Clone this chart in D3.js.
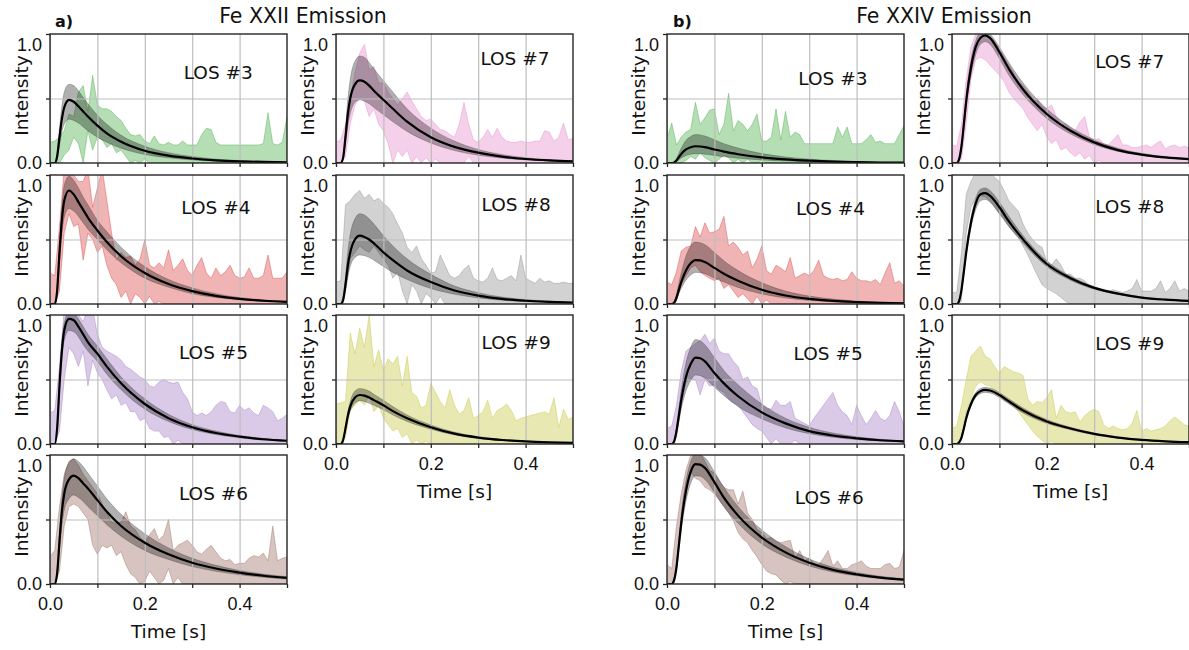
<!DOCTYPE html>
<html>
<head>
<meta charset="utf-8">
<script src="https://cdn.jsdelivr.net/npm/d3@7"></script>
<style>
  body { margin: 0; background: #fff; }
  svg { font-family: "DejaVu Sans", sans-serif; }
  .grid line { stroke: #bdbdbd; stroke-width: 1.2; }
  .grid .domain { display: none; }
  .tick-axis .domain { display: none; }
  .tick-axis line { stroke: #262626; stroke-width: 1.3; }
  .tick-axis text { font-size: 18px; fill: #111; }
</style>
</head>
<body>
<svg id="fig" width="1189" height="650"></svg>
<script>
/* global d3 */

// time sampling of the observed light curves (s)
const obsTime = [
  0.00, 0.01, 0.02, 0.03, 0.04, 0.05, 0.06, 0.07, 0.08, 0.09,
  0.10, 0.11, 0.12, 0.13, 0.14, 0.15, 0.16, 0.17, 0.18, 0.19,
  0.20, 0.21, 0.22, 0.23, 0.24, 0.25, 0.26, 0.27, 0.28, 0.29,
  0.30, 0.31, 0.32, 0.33, 0.34, 0.35, 0.36, 0.37, 0.38, 0.39,
  0.40, 0.41, 0.42, 0.43, 0.44, 0.45, 0.46, 0.47, 0.48, 0.49,
  0.50,
];
// time sampling of the model curves (s)
const fitTime = [0, 0.01, 0.015, 0.02, 0.025, 0.03, 0.04, 0.05, 0.06, 0.07, 0.08,
  0.1, 0.12, 0.15, 0.2, 0.25, 0.3, 0.35, 0.4, 0.45, 0.5];

const xTicks = [0, 0.1, 0.2, 0.3, 0.4, 0.5];
const xTickLabels = [0, 0.2, 0.4];
const yTicks = [0, 0.5, 1.0];
const titles = { a: 'Fe XXII Emission', b: 'Fe XXIV Emission' };

// ---- Fe XXII (a) ----
const a3ObsHi = [
  0.16, 0.17, 0.2, 0.25, 0.38, 0.36, 0.55, 0.6, 0.4, 0.68,
  0.45, 0.42, 0.42, 0.4, 0.36, 0.33, 0.27, 0.22, 0.21, 0.22,
  0.17, 0.15, 0.21, 0.15, 0.14, 0.16, 0.14, 0.14, 0.17, 0.14,
  0.14, 0.14, 0.22, 0.27, 0.26, 0.16, 0.14, 0.14, 0.14, 0.14,
  0.14, 0.14, 0.14, 0.14, 0.14, 0.15, 0.39, 0.15, 0.14, 0.16,
  0.36];
const a3ObsLo = [
  0, 0, 0, 0.06, 0.1, 0.2, 0.15, 0, 0.25, 0.1,
  0.2, 0.18, 0.12, 0.15, 0.08, 0.1, 0.05, 0, 0.02, 0,
  0.03, 0, 0, 0, 0, 0, 0, 0, 0, 0,
  0, 0, 0, 0, 0, 0, 0, 0, 0, 0,
  0, 0, 0, 0, 0, 0, 0, 0, 0, 0,
  0];
const a3Fit = [0, 0, 0.05, 0.2, 0.34, 0.43, 0.49, 0.475, 0.44, 0.4, 0.36, 0.29, 0.23, 0.165, 0.095, 0.057, 0.035, 0.021, 0.013, 0.008, 0.005];
const a3FitHi = [0, 0, 0.07, 0.27, 0.44, 0.55, 0.61, 0.6, 0.56, 0.51, 0.46, 0.37, 0.3, 0.215, 0.13, 0.08, 0.05, 0.03, 0.019, 0.012, 0.007];
const a3FitLo = [0, 0, 0.03, 0.13, 0.24, 0.3, 0.34, 0.33, 0.31, 0.28, 0.25, 0.2, 0.16, 0.115, 0.066, 0.04, 0.024, 0.015, 0.009, 0.005, 0.003];

const a4ObsHi = [
  0.24, 0.22, 0.6, 1.05, 1.05, 1.0, 0.95, 0.95, 1.05, 0.75,
  0.9, 1.05, 0.8, 0.55, 0.34, 0.4, 0.36, 0.37, 0.3, 0.35,
  0.5, 0.3, 0.28, 0.32, 0.28, 0.42, 0.26, 0.3, 0.35, 0.26,
  0.22, 0.3, 0.36, 0.24, 0.2, 0.28, 0.22, 0.25, 0.3, 0.22,
  0.2, 0.21, 0.28, 0.2, 0.2, 0.22, 0.38, 0.2, 0.2, 0.2,
  0.25];
const a4ObsLo = [
  0, 0, 0.1, 0.55, 0.7, 0.6, 0.62, 0.34, 0.55, 0.5,
  0.4, 0.45, 0.3, 0.2, 0.15, 0.05, 0.1, 0, 0.08, 0.05,
  0, 0.06, 0, 0.02, 0, 0, 0, 0, 0, 0,
  0, 0, 0, 0, 0, 0, 0, 0, 0, 0,
  0, 0, 0, 0, 0, 0, 0, 0, 0, 0,
  0];
const a4Fit = [0, 0, 0.1, 0.4, 0.65, 0.8, 0.88, 0.85, 0.79, 0.73, 0.67, 0.57, 0.48, 0.37, 0.24, 0.155, 0.1, 0.063, 0.04, 0.025, 0.016];
const a4FitHi = [0, 0, 0.13, 0.47, 0.75, 0.92, 0.99, 0.96, 0.9, 0.83, 0.77, 0.65, 0.56, 0.44, 0.29, 0.19, 0.125, 0.08, 0.05, 0.032, 0.02];
const a4FitLo = [0, 0, 0.07, 0.32, 0.54, 0.67, 0.74, 0.72, 0.68, 0.63, 0.58, 0.5, 0.42, 0.32, 0.2, 0.13, 0.08, 0.05, 0.032, 0.02, 0.012];

const a5ObsHi = [
  0.24, 0.26, 0.6, 1.05, 1.05, 1.0, 1.0, 0.95, 1.05, 1.05,
  0.85, 0.75, 0.72, 0.7, 0.68, 0.65, 0.6, 0.58, 0.55, 0.52,
  0.5, 0.45, 0.44, 0.48, 0.5, 0.48, 0.47, 0.48, 0.4, 0.35,
  0.25, 0.22, 0.24, 0.22, 0.25, 0.3, 0.33, 0.32, 0.25, 0.24,
  0.3, 0.26, 0.28, 0.24, 0.22, 0.3, 0.28, 0.25, 0.18, 0.2,
  0.23];
const a5ObsLo = [
  0, 0, 0.1, 0.5, 0.75, 0.7, 0.6, 0.72, 0.45, 0.65,
  0.55, 0.5, 0.42, 0.35, 0.38, 0.3, 0.32, 0.25, 0.25, 0.18,
  0.2, 0.12, 0.1, 0.1, 0.05, 0.06, 0, 0.03, 0, 0,
  0, 0, 0, 0, 0, 0, 0, 0, 0, 0,
  0, 0, 0, 0, 0, 0, 0, 0, 0, 0,
  0];
const a5Fit = [0, 0, 0.12, 0.45, 0.72, 0.88, 0.97, 0.96, 0.91, 0.85, 0.79, 0.7, 0.6, 0.47, 0.31, 0.2, 0.13, 0.085, 0.057, 0.037, 0.025];
const a5FitHi = [0, 0, 0.15, 0.5, 0.78, 0.94, 1.02, 1.01, 0.97, 0.91, 0.85, 0.76, 0.66, 0.52, 0.35, 0.23, 0.15, 0.1, 0.066, 0.043, 0.029];
const a5FitLo = [0, 0, 0.09, 0.4, 0.65, 0.8, 0.88, 0.87, 0.83, 0.77, 0.72, 0.64, 0.54, 0.42, 0.27, 0.175, 0.112, 0.073, 0.048, 0.031, 0.021];

const a6ObsHi = [
  0.21, 0.26, 0.6, 0.85, 0.95, 0.97, 0.92, 0.85, 0.8, 0.75,
  0.7, 0.62, 0.55, 0.48, 0.47, 0.48, 0.56, 0.45, 0.42, 0.36,
  0.33, 0.38, 0.43, 0.34, 0.38, 0.5, 0.26, 0.3, 0.32, 0.34,
  0.3, 0.25, 0.23, 0.27, 0.3, 0.25, 0.2, 0.18, 0.19, 0.15,
  0.16, 0.16, 0.2, 0.22, 0.21, 0.24, 0.18, 0.45, 0.18, 0.2,
  0.21];
const a6ObsLo = [
  0, 0, 0.1, 0.45, 0.6, 0.62, 0.6, 0.55, 0.5, 0.3,
  0.23, 0.3, 0.28, 0.3, 0.22, 0.25, 0.15, 0.08, 0.05, 0,
  0.02, 0.1, 0.05, 0, 0.03, 0.12, 0, 0.05, 0, 0,
  0, 0, 0, 0, 0, 0, 0, 0, 0, 0,
  0, 0, 0, 0, 0, 0, 0, 0, 0, 0,
  0];
const a6Fit = [0, 0, 0.08, 0.33, 0.56, 0.7, 0.81, 0.84, 0.82, 0.78, 0.74, 0.65, 0.56, 0.45, 0.32, 0.23, 0.165, 0.12, 0.088, 0.064, 0.047];
const a6FitHi = [0, 0, 0.1, 0.4, 0.66, 0.82, 0.94, 0.97, 0.95, 0.91, 0.86, 0.76, 0.66, 0.54, 0.39, 0.28, 0.2, 0.145, 0.105, 0.077, 0.057];
const a6FitLo = [0, 0, 0.06, 0.26, 0.45, 0.57, 0.66, 0.69, 0.67, 0.64, 0.6, 0.53, 0.46, 0.37, 0.26, 0.19, 0.135, 0.098, 0.072, 0.052, 0.038];

const a7ObsHi = [
  0.16, 0.18, 0.3, 0.5, 0.7, 0.85, 0.92, 0.72, 0.75, 0.62,
  0.62, 0.55, 0.5, 0.45, 0.5, 0.55, 0.48, 0.42, 0.36, 0.33,
  0.34, 0.3, 0.26, 0.25, 0.22, 0.2, 0.3, 0.47, 0.3, 0.18,
  0.16, 0.2, 0.26, 0.2, 0.27, 0.2, 0.17, 0.16, 0.16, 0.17,
  0.16, 0.16, 0.17, 0.17, 0.25, 0.24, 0.17, 0.2, 0.31, 0.18,
  0.19];
const a7ObsLo = [
  0, 0, 0.05, 0.3, 0.45, 0.5, 0.48, 0.36, 0.42, 0.3,
  0.25, 0.15, 0, 0.1, 0.05, 0.1, 0, 0.05, 0, 0.04,
  0, 0.03, 0, 0, 0, 0, 0, 0, 0.05, 0,
  0, 0, 0, 0, 0, 0, 0, 0, 0, 0,
  0, 0, 0, 0, 0, 0, 0, 0, 0, 0,
  0];
const a7Fit = [0, 0, 0.04, 0.2, 0.38, 0.5, 0.61, 0.64, 0.63, 0.6, 0.56, 0.49, 0.42, 0.32, 0.2, 0.125, 0.08, 0.05, 0.031, 0.02, 0.013];
const a7FitHi = [0, 0, 0.06, 0.27, 0.5, 0.65, 0.79, 0.83, 0.82, 0.78, 0.73, 0.64, 0.55, 0.42, 0.27, 0.17, 0.105, 0.066, 0.041, 0.026, 0.017];
const a7FitLo = [0, 0, 0.03, 0.15, 0.29, 0.38, 0.47, 0.49, 0.48, 0.46, 0.43, 0.375, 0.32, 0.245, 0.155, 0.096, 0.06, 0.038, 0.024, 0.015, 0.01];

const a8ObsHi = [
  0.17, 0.18, 0.77, 0.8, 0.85, 0.88, 0.82, 0.85, 0.8, 0.82,
  0.78, 0.75, 0.7, 0.62, 0.55, 0.44, 0.4, 0.45, 0.35, 0.3,
  0.24, 0.25, 0.38, 0.3, 0.22, 0.2, 0.22, 0.27, 0.3, 0.2,
  0.18, 0.17, 0.2, 0.28, 0.19, 0.18, 0.2, 0.22, 0.18, 0.38,
  0.2, 0.18, 0.16, 0.2, 0.17, 0.18, 0.16, 0.16, 0.17, 0.16,
  0.16];
const a8ObsLo = [
  0, 0, 0.1, 0.35, 0.4, 0.45, 0.42, 0.4, 0.45, 0.4,
  0.35, 0.3, 0.2, 0.25, 0.1, 0, 0.15, 0.1, 0, 0.08,
  0.05, 0, 0.06, 0, 0, 0, 0, 0, 0, 0,
  0, 0, 0, 0, 0, 0, 0, 0, 0, 0,
  0, 0, 0, 0, 0, 0, 0, 0, 0, 0,
  0];
const a8Fit = [0, 0, 0.03, 0.15, 0.3, 0.4, 0.5, 0.53, 0.52, 0.5, 0.47, 0.4, 0.34, 0.26, 0.17, 0.105, 0.065, 0.04, 0.025, 0.016, 0.01];
const a8FitHi = [0, 0, 0.05, 0.21, 0.41, 0.54, 0.66, 0.7, 0.69, 0.66, 0.62, 0.53, 0.45, 0.35, 0.23, 0.14, 0.088, 0.054, 0.034, 0.022, 0.014];
const a8FitLo = [0, 0, 0.02, 0.1, 0.21, 0.29, 0.36, 0.38, 0.375, 0.36, 0.34, 0.29, 0.245, 0.19, 0.12, 0.076, 0.047, 0.029, 0.018, 0.011, 0.007];

const a9ObsHi = [
  0.31, 0.32, 0.33, 0.86, 0.7, 0.9, 0.75, 1.0, 0.6, 0.73,
  0.57, 0.66, 0.62, 0.68, 0.45, 0.68, 0.4, 0.37, 0.28, 0.3,
  0.47, 0.4, 0.33, 0.28, 0.42, 0.3, 0.23, 0.26, 0.36, 0.2,
  0.22, 0.25, 0.34, 0.2, 0.26, 0.28, 0.31, 0.26, 0.18, 0.2,
  0.21, 0.22, 0.23, 0.24, 0.25, 0.23, 0.36, 0.13, 0.27, 0.19,
  0.21];
const a9ObsLo = [
  0, 0, 0.05, 0.26, 0.3, 0.34, 0.3, 0.38, 0.25, 0.3,
  0.2, 0.15, 0.1, 0.12, 0.05, 0.08, 0, 0.03, 0, 0.02,
  0, 0, 0, 0, 0, 0, 0, 0, 0, 0,
  0, 0, 0, 0, 0, 0, 0, 0, 0, 0,
  0, 0, 0, 0, 0, 0, 0, 0, 0, 0,
  0];
const a9Fit = [0, 0, 0.03, 0.12, 0.22, 0.29, 0.36, 0.38, 0.375, 0.36, 0.34, 0.3, 0.255, 0.2, 0.13, 0.08, 0.05, 0.031, 0.02, 0.013, 0.008];
const a9FitHi = [0, 0, 0.04, 0.14, 0.25, 0.33, 0.41, 0.43, 0.425, 0.41, 0.385, 0.34, 0.29, 0.225, 0.148, 0.092, 0.057, 0.036, 0.023, 0.015, 0.009];
const a9FitLo = [0, 0, 0.025, 0.105, 0.19, 0.255, 0.315, 0.335, 0.33, 0.315, 0.3, 0.265, 0.225, 0.175, 0.115, 0.07, 0.044, 0.027, 0.018, 0.011, 0.007];

// ---- Fe XXIV (b) ----
const b3ObsHi = [
  0.19, 0.31, 0.14, 0.2, 0.24, 0.26, 0.47, 0.3, 0.35, 0.41,
  0.42, 0.22, 0.3, 0.54, 0.25, 0.33, 0.3, 0.25, 0.3, 0.38,
  0.17, 0.17, 0.2, 0.42, 0.18, 0.4, 0.2, 0.24, 0.22, 0.15,
  0.15, 0.15, 0.15, 0.15, 0.15, 0.15, 0.28, 0.2, 0.28, 0.15,
  0.15, 0.15, 0.18, 0.22, 0.16, 0.17, 0.15, 0.15, 0.15, 0.22,
  0.29];
const b3ObsLo = [
  0, 0, 0, 0, 0.02, 0.05, 0.03, 0.08, 0.04, 0.02,
  0, 0.03, 0.06, 0.04, 0, 0.03, 0, 0.03, 0, 0,
  0.02, 0, 0, 0, 0, 0, 0, 0, 0, 0,
  0, 0, 0, 0, 0, 0, 0, 0, 0, 0,
  0, 0, 0, 0, 0, 0, 0, 0, 0, 0,
  0];
const b3Fit = [0, 0, 0.005, 0.02, 0.045, 0.07, 0.105, 0.122, 0.13, 0.128, 0.123, 0.105, 0.088, 0.068, 0.043, 0.028, 0.018, 0.011, 0.007, 0.004, 0.003];
const b3FitHi = [0, 0, 0.01, 0.035, 0.075, 0.115, 0.175, 0.205, 0.22, 0.218, 0.21, 0.18, 0.15, 0.116, 0.073, 0.047, 0.03, 0.019, 0.012, 0.007, 0.005];
const b3FitLo = [0, 0, 0.003, 0.011, 0.025, 0.038, 0.058, 0.067, 0.072, 0.07, 0.068, 0.058, 0.048, 0.037, 0.024, 0.015, 0.01, 0.006, 0.004, 0.002, 0.0015];

const b4ObsHi = [
  0.17, 0.15, 0.25, 0.41, 0.44, 0.45, 0.6, 0.52, 0.63, 0.55,
  0.56, 0.58, 0.68, 0.45, 0.48, 0.44, 0.38, 0.41, 0.28, 0.35,
  0.45, 0.26, 0.23, 0.3, 0.28, 0.25, 0.36, 0.2, 0.22, 0.24,
  0.22, 0.26, 0.34, 0.22, 0.2, 0.19, 0.2, 0.18, 0.19, 0.25,
  0.2, 0.18, 0.18, 0.17, 0.19, 0.15, 0.24, 0.32, 0.16, 0.18,
  0.14];
const b4ObsLo = [
  0, 0, 0.02, 0.15, 0.22, 0.28, 0.3, 0.25, 0.22, 0.2,
  0.18, 0.2, 0.12, 0.15, 0.1, 0.05, 0.08, 0.04, 0, 0.06,
  0, 0.03, 0, 0, 0, 0, 0, 0, 0, 0,
  0, 0, 0, 0, 0, 0, 0, 0, 0, 0,
  0, 0, 0, 0, 0, 0, 0, 0, 0, 0,
  0];
const b4Fit = [0, 0, 0.01, 0.05, 0.11, 0.17, 0.26, 0.315, 0.34, 0.338, 0.325, 0.28, 0.235, 0.18, 0.11, 0.066, 0.04, 0.024, 0.015, 0.009, 0.006];
const b4FitHi = [0, 0, 0.015, 0.075, 0.16, 0.24, 0.37, 0.45, 0.48, 0.475, 0.46, 0.4, 0.335, 0.26, 0.165, 0.1, 0.062, 0.038, 0.023, 0.014, 0.009];
const b4FitLo = [0, 0, 0.006, 0.035, 0.08, 0.12, 0.185, 0.225, 0.245, 0.243, 0.235, 0.2, 0.17, 0.128, 0.078, 0.047, 0.028, 0.017, 0.01, 0.006, 0.004];

const b5ObsHi = [
  0.12, 0.14, 0.3, 0.56, 0.72, 0.75, 0.78, 0.8, 0.85, 0.78,
  0.82, 0.72, 0.7, 0.7, 0.64, 0.6, 0.5, 0.52, 0.45, 0.43,
  0.3, 0.28, 0.27, 0.34, 0.3, 0.3, 0.33, 0.2, 0.18, 0.16,
  0.14, 0.2, 0.25, 0.3, 0.35, 0.4, 0.3, 0.25, 0.22, 0.15,
  0.3, 0.22, 0.15, 0.2, 0.26, 0.2, 0.18, 0.22, 0.33, 0.25,
  0.14];
const b5ObsLo = [
  0, 0, 0.05, 0.3, 0.48, 0.5, 0.5, 0.38, 0.5, 0.45,
  0.46, 0.42, 0.4, 0.35, 0.32, 0.3, 0.25, 0.2, 0.15, 0.12,
  0.1, 0.05, 0, 0.04, 0, 0, 0, 0.03, 0, 0,
  0, 0, 0, 0, 0, 0, 0, 0, 0, 0,
  0, 0, 0, 0, 0, 0, 0, 0, 0, 0,
  0];
const b5Fit = [0, 0, 0.02, 0.1, 0.22, 0.34, 0.52, 0.62, 0.67, 0.665, 0.64, 0.55, 0.47, 0.37, 0.245, 0.16, 0.1, 0.066, 0.044, 0.029, 0.02];
const b5FitHi = [0, 0, 0.03, 0.13, 0.28, 0.42, 0.63, 0.75, 0.81, 0.8, 0.77, 0.67, 0.57, 0.46, 0.31, 0.2, 0.13, 0.085, 0.056, 0.037, 0.025];
const b5FitLo = [0, 0, 0.015, 0.075, 0.17, 0.27, 0.41, 0.49, 0.535, 0.53, 0.51, 0.44, 0.375, 0.29, 0.195, 0.125, 0.08, 0.052, 0.034, 0.023, 0.015];

const b6ObsHi = [
  0.15, 0.12, 0.45, 0.7, 0.88, 1.0, 1.02, 1.02, 0.95, 0.88,
  0.86, 0.8, 0.75, 0.73, 0.73, 0.62, 0.72, 0.55, 0.5, 0.42,
  0.4, 0.35, 0.36, 0.33, 0.32, 0.33, 0.34, 0.2, 0.26, 0.18,
  0.2, 0.16, 0.15, 0.2, 0.26, 0.14, 0.18, 0.12, 0.12, 0.15,
  0.16, 0.18, 0.14, 0.12, 0.12, 0.12, 0.15, 0.16, 0.12, 0.13,
  0.26];
const b6ObsLo = [
  0, 0, 0.1, 0.5, 0.75, 0.87, 0.82, 0.8, 0.75, 0.73,
  0.7, 0.65, 0.6, 0.55, 0.49, 0.4, 0.35, 0.32, 0.26, 0.21,
  0.15, 0.1, 0.08, 0.07, 0.03, 0, 0.02, 0, 0, 0,
  0, 0, 0, 0, 0, 0, 0, 0, 0, 0,
  0, 0, 0, 0, 0, 0, 0, 0, 0, 0,
  0];
const b6Fit = [0, 0, 0.03, 0.13, 0.3, 0.47, 0.72, 0.87, 0.93, 0.925, 0.9, 0.79, 0.67, 0.53, 0.36, 0.245, 0.165, 0.11, 0.075, 0.05, 0.034];
const b6FitHi = [0, 0, 0.04, 0.16, 0.35, 0.54, 0.8, 0.95, 1.01, 1.0, 0.98, 0.87, 0.75, 0.6, 0.42, 0.29, 0.195, 0.13, 0.09, 0.06, 0.041];
const b6FitLo = [0, 0, 0.02, 0.11, 0.26, 0.41, 0.64, 0.78, 0.84, 0.835, 0.81, 0.71, 0.6, 0.47, 0.31, 0.21, 0.14, 0.093, 0.063, 0.042, 0.028];

const b7ObsHi = [
  0.14, 0.13, 0.3, 0.65, 0.9, 1.0, 1.02, 1.0, 0.98, 0.94,
  0.88, 0.82, 0.76, 0.7, 0.63, 0.6, 0.55, 0.5, 0.5, 0.44,
  0.42, 0.45, 0.36, 0.3, 0.3, 0.27, 0.25, 0.32, 0.36, 0.2,
  0.18, 0.19, 0.15, 0.14, 0.18, 0.22, 0.14, 0.14, 0.12, 0.12,
  0.13, 0.14, 0.12, 0.15, 0.17, 0.11, 0.13, 0.14, 0.12, 0.13,
  0.12];
const b7ObsLo = [
  0, 0, 0.03, 0.3, 0.65, 0.8, 0.82, 0.8, 0.76, 0.72,
  0.68, 0.63, 0.55, 0.5, 0.46, 0.42, 0.35, 0.3, 0.25, 0.3,
  0.2, 0.15, 0.18, 0.1, 0.12, 0.08, 0.05, 0.08, 0.03, 0.06,
  0, 0.02, 0, 0, 0, 0, 0, 0, 0, 0,
  0, 0, 0, 0, 0, 0, 0, 0, 0, 0,
  0];
const b7Fit = [0, 0, 0.03, 0.13, 0.3, 0.48, 0.74, 0.9, 0.97, 0.99, 0.97, 0.86, 0.73, 0.57, 0.38, 0.25, 0.16, 0.1, 0.065, 0.043, 0.03];
const b7FitHi = [0, 0, 0.04, 0.16, 0.35, 0.54, 0.8, 0.95, 1.01, 1.02, 1.0, 0.9, 0.78, 0.62, 0.42, 0.28, 0.18, 0.115, 0.075, 0.05, 0.035];
const b7FitLo = [0, 0, 0.02, 0.1, 0.26, 0.43, 0.68, 0.84, 0.92, 0.94, 0.92, 0.81, 0.68, 0.53, 0.345, 0.225, 0.143, 0.09, 0.058, 0.038, 0.026];

const b8ObsHi = [
  0.09, 0.09, 0.4, 0.85, 0.95, 1.02, 1.02, 1.0, 1.02, 0.98,
  0.95, 0.88, 0.8, 0.76, 0.72, 0.62, 0.55, 0.5, 0.46, 0.44,
  0.33, 0.3, 0.35, 0.3, 0.23, 0.23, 0.2, 0.2, 0.18, 0.14,
  0.13, 0.12, 0.1, 0.1, 0.11, 0.1, 0.09, 0.1, 0.12, 0.19,
  0.1, 0.1, 0.1, 0.12, 0.18, 0.09, 0.12, 0.18, 0.1, 0.12,
  0.1];
const b8ObsLo = [
  0, 0, 0.02, 0.55, 0.75, 0.82, 0.84, 0.83, 0.8, 0.75,
  0.7, 0.66, 0.6, 0.56, 0.52, 0.45, 0.38, 0.3, 0.22, 0.15,
  0.12, 0.1, 0.08, 0.05, 0.02, 0, 0, 0, 0, 0,
  0, 0, 0, 0, 0, 0, 0, 0, 0, 0,
  0, 0, 0, 0, 0, 0, 0, 0, 0, 0,
  0];
const b8Fit = [0, 0, 0.025, 0.11, 0.25, 0.4, 0.63, 0.78, 0.85, 0.86, 0.84, 0.75, 0.64, 0.5, 0.31, 0.2, 0.125, 0.08, 0.05, 0.034, 0.024];
const b8FitHi = [0, 0, 0.03, 0.125, 0.28, 0.44, 0.67, 0.82, 0.89, 0.9, 0.88, 0.79, 0.68, 0.53, 0.335, 0.215, 0.135, 0.087, 0.055, 0.037, 0.026];
const b8FitLo = [0, 0, 0.02, 0.1, 0.23, 0.37, 0.59, 0.73, 0.8, 0.81, 0.79, 0.7, 0.6, 0.47, 0.29, 0.185, 0.115, 0.074, 0.046, 0.031, 0.022];

const b9ObsHi = [
  0.12, 0.14, 0.3, 0.5, 0.68, 0.72, 0.76, 0.68, 0.66, 0.6,
  0.55, 0.6, 0.58, 0.56, 0.55, 0.53, 0.35, 0.3, 0.33, 0.32,
  0.36, 0.42, 0.2, 0.3, 0.25, 0.24, 0.25, 0.17, 0.22, 0.25,
  0.27, 0.25, 0.15, 0.12, 0.14, 0.12, 0.11, 0.12, 0.16, 0.26,
  0.1, 0.12, 0.1, 0.11, 0.12, 0.14, 0.18, 0.21, 0.18, 0.15,
  0.14];
const b9ObsLo = [
  0, 0, 0.05, 0.25, 0.35, 0.45, 0.48, 0.46, 0.45, 0.42,
  0.38, 0.34, 0.32, 0.3, 0.25, 0.2, 0.15, 0.1, 0.06, 0.03,
  0, 0.02, 0, 0, 0, 0, 0, 0, 0, 0,
  0, 0, 0, 0, 0, 0, 0, 0, 0, 0,
  0, 0, 0, 0, 0, 0, 0, 0, 0, 0,
  0];
const b9Fit = [0, 0, 0.012, 0.05, 0.12, 0.2, 0.31, 0.38, 0.41, 0.42, 0.415, 0.38, 0.33, 0.26, 0.175, 0.12, 0.078, 0.05, 0.032, 0.021, 0.014];
const b9FitHi = [0, 0, 0.015, 0.06, 0.135, 0.22, 0.33, 0.4, 0.43, 0.44, 0.435, 0.4, 0.35, 0.28, 0.19, 0.13, 0.085, 0.055, 0.036, 0.024, 0.016];
const b9FitLo = [0, 0, 0.01, 0.04, 0.105, 0.18, 0.29, 0.36, 0.39, 0.4, 0.395, 0.36, 0.31, 0.24, 0.16, 0.11, 0.071, 0.045, 0.029, 0.019, 0.012];

// ---- layout / style ----
const losColor = { 3: '#2ca02c', 4: '#d62728', 5: '#9467bd', 6: '#8c564b', 7: '#e377c2', 8: '#7f7f7f', 9: '#bcbd22' };
const losSlot = { 3: [0, 0], 4: [0, 1], 5: [0, 2], 6: [0, 3], 7: [1, 0], 8: [1, 1], 9: [1, 2] };
const bottomLos = [6, 9];
const colX = { a: [50, 336], b: [667, 952] };
const rowY = [34, 175, 315, 455];
const W = 237;
const H = 129;
// label placement in axes fractions
const labelAt = {
  a: { 3: [0.71, 0.3], 4: [0.7, 0.25], 5: [0.69, 0.29], 6: [0.69, 0.3], 7: [0.755, 0.19], 8: [0.76, 0.23], 9: [0.76, 0.21] },
  b: { 3: [0.7, 0.34], 4: [0.69, 0.26], 5: [0.68, 0.3], 6: [0.685, 0.33], 7: [0.75, 0.21], 8: [0.75, 0.24], 9: [0.75, 0.22] },
};

const panels = [
  { fig: 'a', los: 3, hi: a3ObsHi, lo: a3ObsLo, fit: a3Fit, fitHi: a3FitHi, fitLo: a3FitLo },
  { fig: 'a', los: 4, hi: a4ObsHi, lo: a4ObsLo, fit: a4Fit, fitHi: a4FitHi, fitLo: a4FitLo },
  { fig: 'a', los: 5, hi: a5ObsHi, lo: a5ObsLo, fit: a5Fit, fitHi: a5FitHi, fitLo: a5FitLo },
  { fig: 'a', los: 6, hi: a6ObsHi, lo: a6ObsLo, fit: a6Fit, fitHi: a6FitHi, fitLo: a6FitLo },
  { fig: 'a', los: 7, hi: a7ObsHi, lo: a7ObsLo, fit: a7Fit, fitHi: a7FitHi, fitLo: a7FitLo },
  { fig: 'a', los: 8, hi: a8ObsHi, lo: a8ObsLo, fit: a8Fit, fitHi: a8FitHi, fitLo: a8FitLo },
  { fig: 'a', los: 9, hi: a9ObsHi, lo: a9ObsLo, fit: a9Fit, fitHi: a9FitHi, fitLo: a9FitLo },
  { fig: 'b', los: 3, hi: b3ObsHi, lo: b3ObsLo, fit: b3Fit, fitHi: b3FitHi, fitLo: b3FitLo },
  { fig: 'b', los: 4, hi: b4ObsHi, lo: b4ObsLo, fit: b4Fit, fitHi: b4FitHi, fitLo: b4FitLo },
  { fig: 'b', los: 5, hi: b5ObsHi, lo: b5ObsLo, fit: b5Fit, fitHi: b5FitHi, fitLo: b5FitLo },
  { fig: 'b', los: 6, hi: b6ObsHi, lo: b6ObsLo, fit: b6Fit, fitHi: b6FitHi, fitLo: b6FitLo },
  { fig: 'b', los: 7, hi: b7ObsHi, lo: b7ObsLo, fit: b7Fit, fitHi: b7FitHi, fitLo: b7FitLo },
  { fig: 'b', los: 8, hi: b8ObsHi, lo: b8ObsLo, fit: b8Fit, fitHi: b8FitHi, fitLo: b8FitLo },
  { fig: 'b', los: 9, hi: b9ObsHi, lo: b9ObsLo, fit: b9Fit, fitHi: b9FitHi, fitLo: b9FitLo },
];

const $svg = d3.select('#fig');
$svg.append('rect').attr('width', 1189).attr('height', 650).attr('fill', '#fff');

const x = d3.scaleLinear().domain([0, 0.5]).range([0, W]);
const y = d3.scaleLinear().domain([0, 1]).range([H, 0]);

panels.forEach(p => {
  const [col, row] = losSlot[p.los];
  const x0 = colX[p.fig][col];
  const y0 = rowY[row];
  const color = losColor[p.los];
  const $g = $svg.append('g').attr('transform', `translate(${x0},${y0})`);

  const clipId = `clip-${p.fig}${p.los}`;
  $g.append('clipPath').attr('id', clipId)
    .append('rect').attr('width', W).attr('height', H);
  const $plot = $g.append('g').attr('clip-path', `url(#${clipId})`);

  // observed band
  const obsArea = d3.area()
    .x((d, i) => x(obsTime[i]))
    .y0((d, i) => y(p.lo[i]))
    .y1(d => y(d));
  $plot.append('path').datum(p.hi)
    .attr('d', obsArea)
    .attr('fill', color).attr('fill-opacity', 0.35)
    .attr('stroke', color).attr('stroke-opacity', 0.35).attr('stroke-width', 1);

  // model band
  const fitArea = d3.area()
    .curve(d3.curveMonotoneX)
    .x((d, i) => x(fitTime[i]))
    .y0((d, i) => y(p.fitLo[i]))
    .y1(d => y(d));
  $plot.append('path').datum(p.fitHi)
    .attr('d', fitArea)
    .attr('fill', '#000').attr('fill-opacity', 0.31)
    .attr('stroke', '#000').attr('stroke-opacity', 0.25).attr('stroke-width', 0.8);

  // grid (drawn above the fills, below the line)
  $plot.append('g').attr('class', 'grid')
    .attr('transform', `translate(0,${H})`)
    .call(d3.axisBottom(x).tickValues(xTicks).tickSize(-H).tickFormat(''));
  $plot.append('g').attr('class', 'grid')
    .call(d3.axisLeft(y).tickValues([0.5]).tickSize(-W).tickFormat(''));

  // model curve
  const fitLine = d3.line()
    .curve(d3.curveMonotoneX)
    .x((d, i) => x(fitTime[i]))
    .y(d => y(d));
  $plot.append('path').datum(p.fit)
    .attr('d', fitLine)
    .attr('fill', 'none').attr('stroke', '#000').attr('stroke-width', 2.2);

  // spines
  $g.append('rect').attr('width', W).attr('height', H)
    .attr('fill', 'none').attr('stroke', '#262626').attr('stroke-width', 1.4);

  // y axis
  const $ya = $g.append('g').attr('class', 'tick-axis')
    .call(d3.axisLeft(y).tickValues(yTicks).tickSize(4).tickPadding(4)
      .tickFormat(d => (d === 0.5 ? '' : d3.format('.1f')(d))));
  $ya.selectAll('.tick text').filter(d => d === 1).attr('dy', '0.9em');

  // x axis
  const isBottom = bottomLos.includes(p.los);
  $g.append('g').attr('class', 'tick-axis')
    .attr('transform', `translate(0,${H})`)
    .call(d3.axisBottom(x).tickValues(xTicks).tickSize(4).tickPadding(9)
      .tickFormat(d => (isBottom && xTickLabels.some(v => Math.abs(v - d) < 1e-9) ? d3.format('.1f')(d) : '')));

  if (isBottom) {
    $g.append('text')
      .attr('x', W / 2).attr('y', H + 54)
      .attr('text-anchor', 'middle')
      .attr('font-size', 18.5).attr('fill', '#111')
      .text('Time [s]');
  }

  // y label
  $g.append('text')
    .attr('transform', `translate(-22,${H / 2 - 3}) rotate(-90)`)
    .attr('text-anchor', 'middle')
    .attr('font-size', 18.5).attr('fill', '#111')
    .text('Intensity');

  // LOS label
  const [fx, fy] = labelAt[p.fig][p.los];
  $g.append('text')
    .attr('x', fx * W).attr('y', fy * H)
    .attr('dy', '0.36em')
    .attr('text-anchor', 'middle')
    .attr('font-size', 18.5).attr('fill', '#111')
    .text(`LOS #${p.los}`);
});

// titles and panel letters
[['a', 303, 55], ['b', 944, 673]].forEach(([key, cx, lx]) => {
  $svg.append('text')
    .attr('x', cx).attr('y', 23)
    .attr('text-anchor', 'middle')
    .attr('font-size', 20.5).attr('fill', '#111')
    .text(titles[key]);
  $svg.append('text')
    .attr('x', lx).attr('y', 27)
    .attr('font-size', 16).attr('font-weight', 'bold').attr('fill', '#111')
    .text(`${key})`);
});
</script>
</body>
</html>
